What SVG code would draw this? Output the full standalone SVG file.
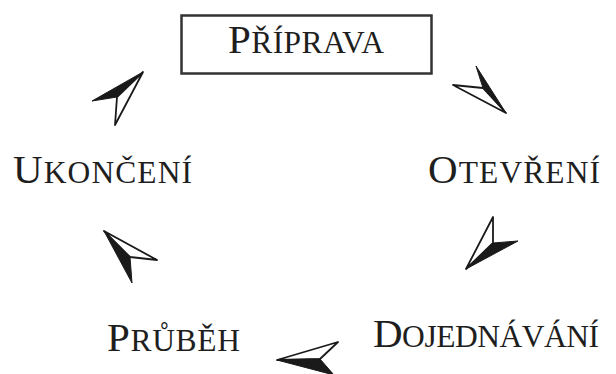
<svg xmlns="http://www.w3.org/2000/svg" width="616" height="374" viewBox="0 0 616 374">
<style>
.lbl{font-family:"Liberation Serif","Times New Roman",serif;fill:#1e1e1e}
.big{font-size:41px}
.sc{font-size:31.5px}
.box{fill:#fff;stroke:#333;stroke-width:2.5}
.af{fill:#1a1a1a;stroke:#1a1a1a;stroke-width:1;stroke-linejoin:round}
.ao{fill:#fff;stroke:#1a1a1a;stroke-width:1.8;stroke-linejoin:round}
</style>
<rect width="616" height="374" fill="#fff"/>
<g id="priprava">
<rect class="box" x="181.5" y="15.5" width="250" height="58"/>
<text class="lbl" x="228" y="53" textLength="156" lengthAdjust="spacing"><tspan class="big">P</tspan><tspan class="sc">ŘÍPRAVA</tspan></text>
</g>
<g id="otevreni">
<text class="lbl" x="428" y="183" textLength="172" lengthAdjust="spacing"><tspan class="big">O</tspan><tspan class="sc">TEVŘENÍ</tspan></text>
</g>
<g id="dojednavani">
<text class="lbl" x="373" y="347" textLength="226" lengthAdjust="spacing"><tspan class="big">D</tspan><tspan class="sc">OJEDNÁVÁNÍ</tspan></text>
</g>
<g id="prubeh">
<text class="lbl" x="107" y="351" textLength="133" lengthAdjust="spacing"><tspan class="big">P</tspan><tspan class="sc">RŮBĚH</tspan></text>
</g>
<g id="ukonceni">
<text class="lbl" x="13" y="183" textLength="179" lengthAdjust="spacing"><tspan class="big">U</tspan><tspan class="sc">KONČENÍ</tspan></text>
</g>
<g id="connectors">
<!-- top right -->
<polygon class="ao" points="506,113 453,85 483,88"/>
<polygon class="af" points="506,113 483,88 476,66"/>
<!-- right middle -->
<polygon class="ao" points="466,269 493,217 493,243"/>
<polygon class="af" points="466,269 493,243 518,241"/>
<!-- bottom -->
<polygon class="ao" points="277,360 338,342 320,359"/>
<polygon class="af" points="277,360 320,359 334,375"/>
<!-- left middle -->
<polygon class="ao" points="104,231 157,260 130,257"/>
<polygon class="af" points="104,231 130,257 132,283"/>
<!-- top left -->
<polygon class="af" points="143,72 92,101 117,97"/>
<polygon class="ao" points="143,72 117,97 115,125"/>
</g>
</svg>
